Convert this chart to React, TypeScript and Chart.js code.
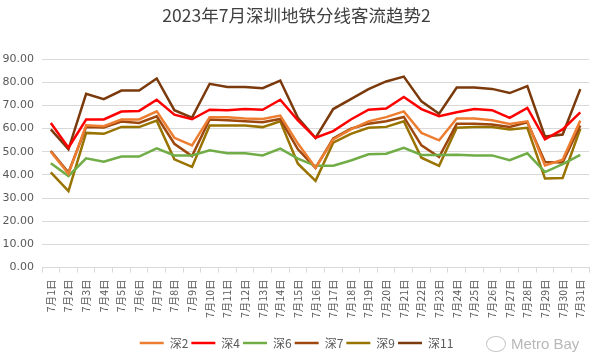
import React, { useEffect, useRef } from "react";
import { Chart, registerables } from "chart.js";

Chart.register(...registerables);

const TITLE = "2023年7月深圳地铁分线客流趋势2";

const days = [
  "7月1日", "7月2日", "7月3日", "7月4日", "7月5日", "7月6日", "7月7日", "7月8日",
  "7月9日", "7月10日", "7月11日", "7月12日", "7月13日", "7月14日", "7月15日", "7月16日",
  "7月17日", "7月18日", "7月19日", "7月20日", "7月21日", "7月22日", "7月23日", "7月24日",
  "7月25日", "7月26日", "7月27日", "7月28日", "7月29日", "7月30日", "7月31日",
];

const seriesNames = ["深2", "深4", "深6", "深7", "深9", "深11"];

const shen2 = [50, 40.5, 61.4, 61, 63.9, 63.9, 67.4, 56, 52.7, 64.9, 64.9, 64.3, 64.1, 65.6, 53.5, 43.1, 55.3, 59.6, 63.1, 64.9, 67.4, 58.1, 54.9, 64.3, 64.3, 63.6, 62, 63.1, 44.1, 46.5, 63.4];
const shen4 = [62.4, 51.7, 63.9, 63.9, 67.3, 67.6, 72.4, 66, 64, 68.1, 67.9, 68.4, 68.1, 72.4, 63.5, 56, 58.9, 63.9, 68.1, 68.6, 73.6, 68.4, 65.3, 67, 68.4, 67.9, 64.6, 68.9, 55.3, 59.6, 67];
const shen6 = [45, 39.5, 47.1, 45.7, 47.9, 47.9, 51.4, 48.4, 48.4, 50.6, 49.3, 49.3, 48.4, 51.3, 47, 43.9, 43.9, 46.2, 48.9, 49.1, 51.7, 48.6, 48.6, 48.7, 48.4, 48.4, 46.3, 49.3, 41.2, 44.6, 48.6];
const shen7 = [50.3, 41, 60.6, 60.4, 63, 62.4, 65.3, 53.4, 48.1, 63.9, 63.6, 63.1, 62.7, 64.1, 51, 43, 55.7, 59.9, 62.1, 63.1, 65, 52.7, 47.7, 62, 62, 61.7, 60.7, 62.7, 45.5, 45.3, 61.3];
const shen9 = [41.1, 33, 58.1, 57.7, 60.7, 60.6, 63.4, 46.7, 43.4, 61.3, 61.3, 61.3, 60.6, 63.1, 44.8, 37.4, 53.9, 57.7, 60.3, 60.7, 63.1, 47.4, 43.9, 60.3, 60.6, 60.6, 59.6, 60.3, 38.4, 38.6, 59.9];
const shen11 = [59.6, 51, 75, 72.7, 76.4, 76.4, 81.6, 67.9, 64.7, 79.3, 77.9, 77.9, 77.4, 80.7, 64.6, 55.9, 68.4, 72.7, 77, 80.3, 82.4, 71.7, 66.4, 77.7, 77.7, 77.1, 75.3, 78.3, 56.5, 57.4, 77];

const seriesValues = [shen2, shen4, shen6, shen7, shen9, shen11];
const seriesColors = ["#ED7D31", "#FF0000", "#70AD47", "#9E480E", "#997300", "#7B3A0C"];

const FONT = "'Noto Sans CJK SC', 'Noto Sans', sans-serif";
const NUMFONT = "'DejaVu Sans', 'Noto Sans', sans-serif";
const TEXT = "#595959";

export default function App() {
  const ref = useRef<HTMLCanvasElement | null>(null);

  useEffect(() => {
    document.body.style.margin = "0";
    const canvas = ref.current;
    if (!canvas) return;
    const chart = new Chart(canvas, {
      type: "line",
      data: {
        labels: days,
        datasets: seriesNames.map((name, i) => ({
          label: name,
          data: seriesValues[i],
          borderColor: seriesColors[i],
          backgroundColor: seriesColors[i],
          borderWidth: 2.5,
          pointRadius: 0,
          pointHoverRadius: 0,
          pointStyle: "line" as const,
          tension: 0,
          fill: false,
        })),
      },
      options: {
        animation: false,
        responsive: false,
        maintainAspectRatio: false,
        devicePixelRatio: 1,
        layout: { padding: { left: 0, right: 7, top: 0, bottom: 4 } },
        plugins: {
          title: {
            display: true,
            text: TITLE,
            color: "#404040",
            font: { family: FONT, size: 17.5, weight: "normal" },
            padding: { top: 5, bottom: 33 },
          },
          legend: {
            position: "bottom",
            labels: {
              usePointStyle: true,
              pointStyle: "line",
              pointStyleWidth: 24,
              color: TEXT,
              font: { family: FONT, size: 12 },
              padding: 3,
              boxHeight: 12,
            },
          },
          tooltip: { enabled: false },
        },
        scales: {
          x: {
            offset: true,
            grid: {
              offset: true,
              drawOnChartArea: false,
              drawTicks: true,
              tickLength: 5,
              color: "#D9D9D9",
            },
            border: { display: true, color: "#D9D9D9" },
            ticks: {
              autoSkip: false,
              maxRotation: 90,
              minRotation: 90,
              padding: 7,
              color: TEXT,
              font: { family: FONT, size: 10.5 },
            },
            afterFit: (scale: any) => {
              scale.height += 9;
            },
          },
          y: {
            min: 0,
            max: 90,
            grid: { color: "#D9D9D9", drawTicks: false, lineWidth: 1 },
            border: { display: false },
            ticks: {
              stepSize: 10,
              padding: 8,
              color: TEXT,
              font: { family: NUMFONT, size: 11 },
              callback: (v: any) => Number(v).toFixed(2),
            },
            afterFit: (scale: any) => {
              scale.width = 42;
            },
          },
        },
      },
    });
    return () => chart.destroy();
  }, []);

  return (
    <div style={{ position: "relative", width: 600, height: 363, background: "#fff" }}>
      <canvas ref={ref} width={600} height={363} style={{ display: "block" }} />
      <div
        style={{
          position: "absolute",
          left: 486,
          top: 335,
          display: "flex",
          alignItems: "center",
          gap: 5,
          color: "#B8B8B8",
          fontFamily: "'Liberation Sans', sans-serif",
          fontSize: 15,
          pointerEvents: "none",
        }}
      >
        <span
          style={{
            display: "inline-block",
            width: 18,
            height: 14,
            border: "1.5px solid #C8C8C8",
            borderRadius: "50%",
          }}
        />
        <span>Metro Bay</span>
      </div>
    </div>
  );
}
